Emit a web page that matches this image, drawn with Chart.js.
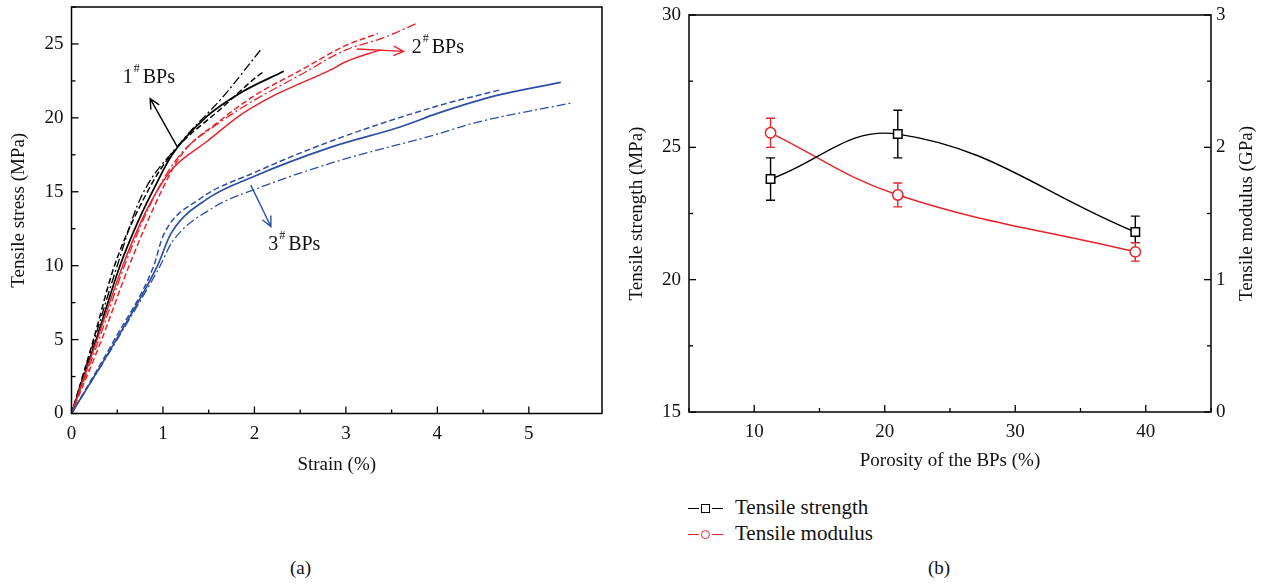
<!DOCTYPE html>
<html lang="en">
<head>
  <meta charset="UTF-8" />
  <title>Tensile behaviour of the BPs</title>
  <script src="https://cdn.jsdelivr.net/npm/chart.js"></script>
  <style>
    body {
      margin: 0;
      background: #fff;
      color: #111;
      font-family: 'Liberation Serif', 'DejaVu Serif', serif;
    }

    #page {
      position: relative;
      width: 1265px;
      height: 584px;
    }

    #stressBox {
      position: absolute;
      left: 0;
      top: 0;
      width: 620px;
      height: 480px;
    }

    #porosityBox {
      position: absolute;
      left: 625px;
      top: 0;
      width: 640px;
      height: 480px;
    }

    .caption {
      position: absolute;
      top: 557px;
      font-size: 19px;
    }

    #legend {
      position: absolute;
      left: 688px;
      top: 494px;
      font-size: 21px;
      line-height: 26px;
    }

    .key {
      display: inline-block;
      position: relative;
      width: 35px;
      height: 12px;
      margin-right: 12px;
      vertical-align: middle;
    }

    .key::before {
      content: '';
      position: absolute;
      left: 0;
      right: 0;
      top: 5px;
      border-top: 1.6px solid currentColor;
    }

    .key span {
      position: absolute;
      left: 13px;
      top: 1px;
      width: 7px;
      height: 7px;
      background: #fff;
      border: 1.3px solid currentColor;
      box-shadow: 0 0 0 2px #fff;
    }

    .key.round span {
      border-radius: 50%;
    }
  </style>
</head>
<body>
  <div id="page">
    <div id="stressBox"><canvas id="stressChart"></canvas></div>
    <div id="porosityBox"><canvas id="porosityChart"></canvas></div>

    <div id="legend">
      <div><span class="key" style="color:#000"><span></span></span>Tensile strength</div>
      <div><span class="key round" style="color:#e8232a"><span></span></span>Tensile modulus</div>
    </div>

    <div class="caption" style="left:290px">(a)</div>
    <div class="caption" style="left:928px">(b)</div>
  </div>

  <script>
    // ---- (a) stress-strain curves, three specimens per BP type ----
    const bp1SolidStrain = [0, 0.27, 0.53, 0.75, 0.9, 1.1, 1.48, 1.85, 2.32];
    const bp1SolidStress = [0, 5, 10, 13.3, 15.2, 17.5, 20.1, 21.7, 23.15];
    const bp1DashStrain = [0, 0.24, 0.47, 0.83, 1.1, 1.63, 2.05, 2.11];
    const bp1DashStress = [0, 5, 10, 15, 17.6, 20.6, 22.9, 23.15];
    const bp1DotStrain = [0, 0.25, 0.5, 0.75, 1.19, 1.66, 2.08];
    const bp1DotStress = [0, 5, 10, 14.5, 18.3, 21.45, 24.7];

    const bp2SolidStrain = [0, 0.28, 0.56, 0.8, 0.93, 1.11, 1.48, 1.85, 2.21, 2.85, 3.0, 3.38];
    const bp2SolidStress = [0, 5, 10, 13.5, 15.0, 16.6, 18.4, 20.2, 21.5, 23.3, 23.8, 24.6];
    const bp2DashStrain = [0, 0.33, 0.63, 0.98, 1.2, 1.6, 2.0, 2.5, 3.0, 3.35];
    const bp2DashStress = [0, 5, 10, 15, 17.5, 19.7, 21.5, 23.2, 24.9, 25.7];
    const bp2DotStrain = [0, 0.3, 0.58, 0.93, 1.2, 1.6, 2.0, 2.5, 3.0, 3.4, 3.78];
    const bp2DotStress = [0, 5, 10, 15, 17.6, 19.6, 21.2, 22.9, 24.6, 25.4, 26.4];

    const bp3SolidStrain = [0, 0.49, 0.94, 1.09, 1.48, 2.0, 2.83, 3.6, 4.0, 4.64, 5.35];
    const bp3SolidStress = [0, 5, 10, 12.2, 14.5, 16.05, 18.0, 19.4, 20.3, 21.5, 22.4];
    const bp3DashStrain = [0, 0.47, 0.9, 1.0, 1.4, 2.0, 2.87, 4.0, 4.69];
    const bp3DashStress = [0, 5, 10, 12.0, 14.5, 16.3, 18.5, 20.8, 21.9];
    const bp3DotStrain = [0, 0.5, 0.97, 1.1, 1.57, 2.0, 2.87, 4.0, 4.4, 5.46];
    const bp3DotStress = [0, 5, 10, 11.6, 14.0, 15.15, 17.0, 18.9, 19.65, 21.0];

    // ---- (b) strength / modulus against porosity ----
    const porosity = [11.25, 21.0, 39.2];
    const strength = [23.8, 25.5, 21.8];
    const strengthLow = [23.0, 24.6, 21.4];
    const strengthHigh = [24.6, 26.4, 22.4];
    const modulus = [2.11, 1.64, 1.21];
    const modulusLow = [2.0, 1.55, 1.14];
    const modulusHigh = [2.22, 1.73, 1.28];

    const BLACK = '#000';
    const RED = '#e8232a';
    const BLUE = '#2d4fa2';
    const FONT = "'Liberation Serif', 'DejaVu Serif', serif";

    Chart.defaults.font.family = FONT;
    Chart.defaults.color = '#111';

    const zip = (xs, ys) => xs.map((x, i) => ({ x: x, y: ys[i] }));
    const onStep = (v, step) => Math.abs(v / step - Math.round(v / step)) < 1e-6;

    function curve(xs, ys, color, dash, width) {
      return {
        data: zip(xs, ys),
        borderColor: color,
        borderWidth: width,
        borderDash: dash,
        pointRadius: 0,
        cubicInterpolationMode: 'monotone',
        fill: false
      };
    }

    const DASH = [6, 3];
    const DASHDOT = [9, 3, 2, 3];

    // fixed axis sizes, no extra room for the end tick labels
    function fixWidth(w) {
      return s => { s.width = w; s.paddingTop = 0; s.paddingBottom = 0; };
    }
    function fixHeight(h) {
      return s => { s.height = h; s.paddingLeft = 0; s.paddingRight = 0; };
    }

    // box around the plot area plus inward tick marks
    const frameTicks = {
      id: 'frameTicks',
      afterDraw(chart, args, opts) {
        const ctx = chart.ctx;
        const a = chart.chartArea;
        ctx.save();
        ctx.strokeStyle = '#000';
        ctx.lineWidth = 1.5;
        ctx.strokeRect(a.left, a.top, a.right - a.left, a.bottom - a.top);
        ctx.lineWidth = 1.3;
        Object.values(chart.scales).forEach(s => {
          const major = opts.major[s.id];
          s.ticks.forEach(t => {
            const len = onStep(t.value, major) ? 7 : 4;
            const p = s.getPixelForValue(t.value);
            ctx.beginPath();
            if (s.position === 'bottom') {
              ctx.moveTo(p, a.bottom);
              ctx.lineTo(p, a.bottom - len);
            } else if (s.position === 'left') {
              ctx.moveTo(a.left, p);
              ctx.lineTo(a.left + len, p);
            } else {
              ctx.moveTo(a.right, p);
              ctx.lineTo(a.right - len, p);
            }
            ctx.stroke();
          });
        });
        ctx.restore();
      }
    };

    function keepSteps(step) {
      return s => { s.ticks = s.ticks.filter(t => onStep(t.value, step)); };
    }

    // "n# BPs" tags with open arrows, placed in data units
    const bpTags = {
      id: 'bpTags',
      afterDatasetsDraw(chart, args, opts) {
        const ctx = chart.ctx;
        const sx = chart.scales.x, sy = chart.scales.y;
        ctx.save();
        opts.tags.forEach(tag => {
          const x0 = sx.getPixelForValue(tag.tail[0]), y0 = sy.getPixelForValue(tag.tail[1]);
          const x1 = sx.getPixelForValue(tag.tip[0]), y1 = sy.getPixelForValue(tag.tip[1]);
          ctx.strokeStyle = tag.color;
          ctx.lineWidth = 1.4;
          ctx.beginPath();
          ctx.moveTo(x0, y0);
          ctx.lineTo(x1, y1);
          const ang = Math.atan2(y1 - y0, x1 - x0);
          ctx.moveTo(x1 - 11 * Math.cos(ang - 0.45), y1 - 11 * Math.sin(ang - 0.45));
          ctx.lineTo(x1, y1);
          ctx.lineTo(x1 - 11 * Math.cos(ang + 0.45), y1 - 11 * Math.sin(ang + 0.45));
          ctx.stroke();

          const tx = sx.getPixelForValue(tag.at[0]), ty = sy.getPixelForValue(tag.at[1]);
          ctx.fillStyle = '#111';
          ctx.textBaseline = 'middle';
          ctx.textAlign = 'left';
          ctx.font = '20px ' + FONT;
          ctx.fillText(tag.num, tx, ty);
          const w = ctx.measureText(tag.num).width;
          ctx.font = '12px ' + FONT;
          ctx.fillText('#', tx + w + 1, ty - 9);
          const w2 = ctx.measureText('#').width;
          ctx.font = '20px ' + FONT;
          ctx.fillText('BPs', tx + w + w2 + 4, ty);
        });
        ctx.restore();
      }
    };

    new Chart(document.getElementById('stressChart'), {
      type: 'line',
      data: {
        datasets: [
          curve(bp3DotStrain, bp3DotStress, BLUE, DASHDOT, 1.3),
          curve(bp3DashStrain, bp3DashStress, BLUE, DASH, 1.5),
          curve(bp3SolidStrain, bp3SolidStress, BLUE, [], 1.7),
          curve(bp2DotStrain, bp2DotStress, RED, DASHDOT, 1.3),
          curve(bp2DashStrain, bp2DashStress, RED, DASH, 1.5),
          curve(bp2SolidStrain, bp2SolidStress, RED, [], 1.5),
          curve(bp1DotStrain, bp1DotStress, BLACK, DASHDOT, 1.3),
          curve(bp1DashStrain, bp1DashStress, BLACK, DASH, 1.5),
          curve(bp1SolidStrain, bp1SolidStress, BLACK, [], 1.7)
        ]
      },
      options: {
        responsive: true,
        maintainAspectRatio: false,
        animation: false,
        layout: { padding: { top: 7, right: 18, left: 0, bottom: 0 } },
        plugins: {
          legend: { display: false },
          tooltip: { enabled: false },
          frameTicks: { major: { x: 1, y: 5 } },
          bpTags: {
            tags: [
              { num: '1', at: [0.56, 22.7], tail: [1.155, 18.05], tip: [0.86, 21.3], color: BLACK },
              { num: '2', at: [3.72, 24.75], tail: [3.12, 24.66], tip: [3.63, 24.5], color: RED },
              { num: '3', at: [2.15, 11.4], tail: [1.96, 15.45], tip: [2.18, 12.65], color: BLUE }
            ]
          }
        },
        scales: {
          x: {
            type: 'linear',
            min: 0,
            max: 5.8,
            grid: { display: false, drawTicks: false },
            border: { display: false },
            afterBuildTicks: keepSteps(0.5),
            afterFit: fixHeight(66.5),
            ticks: {
              stepSize: 0.5,
              autoSkip: false,
              maxRotation: 0,
              padding: 9,
              font: { size: 19 },
              color: '#111',
              callback: v => onStep(v, 1) ? v : ''
            },
            title: {
              display: true,
              text: 'Strain (%)',
              font: { size: 19 },
              color: '#111',
              padding: { top: 0, bottom: 4 }
            }
          },
          y: {
            min: 0,
            max: 27.5,
            grid: { display: false, drawTicks: false },
            border: { display: false },
            afterBuildTicks: keepSteps(2.5),
            afterFit: fixWidth(71.5),
            ticks: {
              stepSize: 2.5,
              autoSkip: false,
              padding: 8,
              font: { size: 19 },
              color: '#111',
              callback: v => onStep(v, 5) ? v : ''
            },
            title: {
              display: true,
              text: 'Tensile stress (MPa)',
              font: { size: 19 },
              color: '#111',
              padding: { top: 8, bottom: 0 }
            }
          }
        }
      },
      plugins: [frameTicks, bpTags]
    });

    // vertical error bars with caps, under the markers
    const errorBars = {
      id: 'errorBars',
      beforeDatasetsDraw(chart) {
        const ctx = chart.ctx;
        ctx.save();
        chart.data.datasets.forEach(ds => {
          const sx = chart.scales.x, sy = chart.scales[ds.yAxisID];
          ctx.strokeStyle = ds.borderColor;
          ctx.lineWidth = 1.4;
          ds.data.forEach((pt, i) => {
            const x = sx.getPixelForValue(pt.x);
            const lo = sy.getPixelForValue(ds.errLow[i]);
            const hi = sy.getPixelForValue(ds.errHigh[i]);
            ctx.beginPath();
            ctx.moveTo(x, lo); ctx.lineTo(x, hi);
            ctx.moveTo(x - 4.5, lo); ctx.lineTo(x + 4.5, lo);
            ctx.moveTo(x - 4.5, hi); ctx.lineTo(x + 4.5, hi);
            ctx.stroke();
          });
        });
        ctx.restore();
      }
    };

    // right-hand axis title, reading bottom to top like the left one
    const rightTitle = {
      id: 'rightTitle',
      afterDraw(chart) {
        const ctx = chart.ctx;
        const a = chart.chartArea;
        ctx.save();
        ctx.translate(622, (a.top + a.bottom) / 2);
        ctx.rotate(-Math.PI / 2);
        ctx.font = '19px ' + FONT;
        ctx.fillStyle = '#111';
        ctx.textAlign = 'center';
        ctx.textBaseline = 'middle';
        ctx.fillText('Tensile modulus (GPa)', 0, 0);
        ctx.restore();
      }
    };

    new Chart(document.getElementById('porosityChart'), {
      type: 'line',
      data: {
        datasets: [
          {
            label: 'Tensile strength',
            data: zip(porosity, strength),
            errLow: strengthLow,
            errHigh: strengthHigh,
            yAxisID: 'y',
            borderColor: BLACK,
            borderWidth: 1.4,
            tension: 0.4,
            pointStyle: 'rect',
            pointRadius: 6,
            pointBorderWidth: 1.5,
            pointBackgroundColor: '#fff',
            pointBorderColor: BLACK
          },
          {
            label: 'Tensile modulus',
            data: zip(porosity, modulus),
            errLow: modulusLow,
            errHigh: modulusHigh,
            yAxisID: 'y1',
            borderColor: RED,
            borderWidth: 1.4,
            tension: 0.4,
            pointStyle: 'circle',
            pointRadius: 5.2,
            pointBorderWidth: 1.5,
            pointBackgroundColor: '#fff',
            pointBorderColor: RED
          }
        ]
      },
      options: {
        responsive: true,
        maintainAspectRatio: false,
        animation: false,
        layout: { padding: { top: 15, right: 0, left: 0, bottom: 0 } },
        plugins: {
          legend: { display: false },
          tooltip: { enabled: false },
          frameTicks: { major: { x: 10, y: 5, y1: 1 } }
        },
        scales: {
          x: {
            type: 'linear',
            min: 5,
            max: 45,
            grid: { display: false, drawTicks: false },
            border: { display: false },
            afterBuildTicks: keepSteps(5),
            afterFit: fixHeight(68),
            ticks: {
              stepSize: 5,
              autoSkip: false,
              maxRotation: 0,
              padding: 9,
              font: { size: 19 },
              color: '#111',
              callback: v => (onStep(v, 10) ? v : '')
            },
            title: {
              display: true,
              text: 'Porosity of the BPs (%)',
              font: { size: 19 },
              color: '#111',
              padding: { top: 0, bottom: 8 }
            }
          },
          y: {
            position: 'left',
            min: 15,
            max: 30,
            grid: { display: false, drawTicks: false },
            border: { display: false },
            afterBuildTicks: keepSteps(2.5),
            afterFit: fixWidth(64),
            ticks: {
              stepSize: 2.5,
              autoSkip: false,
              padding: 8,
              font: { size: 19 },
              color: '#111',
              callback: v => onStep(v, 5) ? v : ''
            },
            title: {
              display: true,
              text: 'Tensile strength (MPa)',
              font: { size: 19 },
              color: '#111',
              padding: { top: 1, bottom: 0 }
            }
          },
          y1: {
            position: 'right',
            min: 0,
            max: 3,
            grid: { display: false, drawTicks: false },
            border: { display: false },
            afterBuildTicks: keepSteps(0.5),
            afterFit: fixWidth(54),
            ticks: {
              stepSize: 0.5,
              autoSkip: false,
              padding: 5,
              font: { size: 19 },
              color: '#111',
              callback: v => onStep(v, 1) ? v : ''
            }
          }
        }
      },
      plugins: [errorBars, frameTicks, rightTitle]
    });
  </script>
</body>
</html>
